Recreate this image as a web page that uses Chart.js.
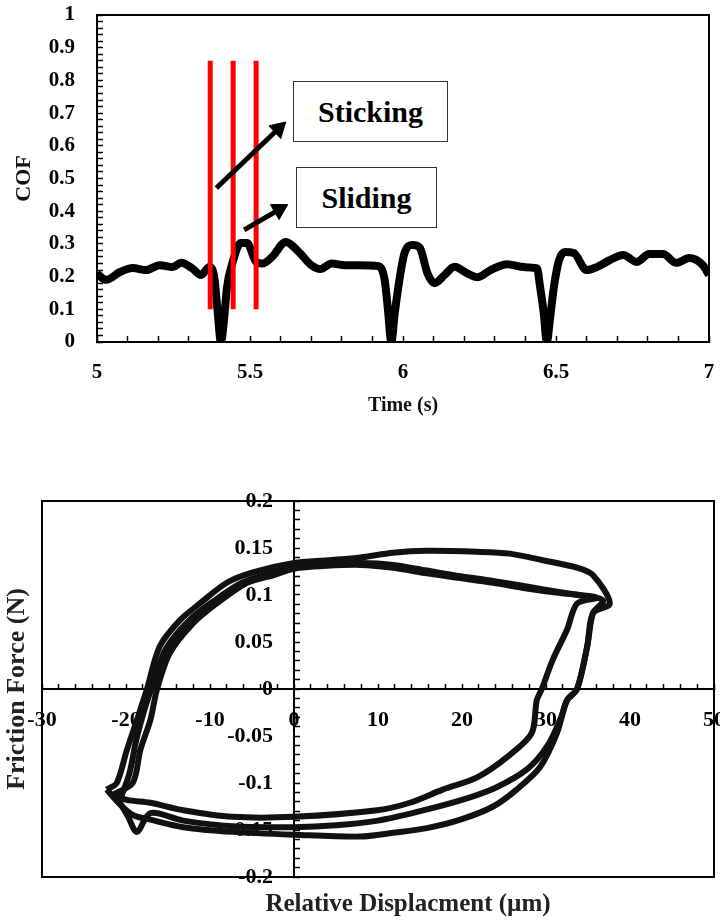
<!DOCTYPE html>
<html>
<head>
<meta charset="utf-8">
<script src="https://cdn.jsdelivr.net/npm/chart.js@4.4.1/dist/chart.umd.min.js"></script>
<style>
    body { margin: 0; width: 720px; height: 924px; overflow: hidden; background: #fff; position: relative; }
    canvas { position: absolute; left: 0; }
    .caixa {
        position: absolute; box-sizing: border-box; border: 1.5px solid #333; background: #fff;
        display: flex; align-items: center; justify-content: center;
        font: bold 30px 'Liberation Serif', 'Times New Roman', serif; color: #000;
    }
</style>
</head>
<body>
<canvas id="graficoCof" width="720" height="430" style="top:0"></canvas>
<div class="caixa" style="left:293px; top:81px; width:155px; height:61px">Sticking</div>
<div class="caixa" style="left:296px; top:167px; width:141px; height:61px">Sliding</div>
<canvas id="graficoLaco" width="816" height="454" style="top:470px"></canvas>

<script>
/* ---- dados do grafico de cima (COF x tempo) ---- */
const tempo = [5.0, 5.03, 5.075, 5.117, 5.16, 5.205, 5.247, 5.275, 5.31, 5.34, 5.367, 5.383, 5.393, 5.405, 5.415, 5.425, 5.442, 5.47, 5.49, 5.52,
    5.54, 5.572, 5.617, 5.66, 5.70, 5.73, 5.767, 5.81, 5.853, 5.92, 5.94, 5.95, 5.962, 5.973, 5.99, 6.005, 6.032, 6.055, 6.08, 6.103,
    6.136, 6.168, 6.21, 6.243, 6.286, 6.34, 6.396, 6.438, 6.448, 6.46, 6.47, 6.48, 6.493, 6.51, 6.53, 6.558, 6.60, 6.633, 6.675, 6.72,
    6.763, 6.805, 6.85, 6.893, 6.935, 6.98, 7.0];
const cof = [0.208, 0.19, 0.214, 0.226, 0.22, 0.235, 0.229, 0.242, 0.226, 0.205, 0.229, 0.2, 0.107, 0, 0.067, 0.168, 0.24, 0.303, 0.303, 0.245,
    0.24, 0.26, 0.306, 0.275, 0.235, 0.223, 0.24, 0.235, 0.235, 0.232, 0.19, 0.107, 0, 0.088, 0.2, 0.272, 0.297, 0.288, 0.21, 0.18,
    0.205, 0.23, 0.21, 0.198, 0.22, 0.238, 0.229, 0.225, 0.168, 0.088, 0, 0.067, 0.168, 0.25, 0.275, 0.272, 0.22, 0.229, 0.25, 0.266,
    0.245, 0.269, 0.269, 0.242, 0.257, 0.235, 0.205];

// linhas vermelhas (tempo) e seus limites de COF
const linhasVermelhas = [5.37, 5.445, 5.52];
const limitesLinhas = [0.1, 0.86];

// setas: [cauda, ponta] em (tempo, COF)
const setaStickingX = [5.39, 5.593];
const setaStickingY = [0.471, 0.652];
const setaSlidingX = [5.481, 5.595];
const setaSlidingY = [0.343, 0.405];

/* ---- dados do grafico de baixo (forca x deslocamento), 3 ciclos ---- */
const deslocCiclo1 = [-22.3, -21.1, -19.9, -18.7, -17.5, -16, -13.6, -11.2, -8, -4.9, 0, 4, 7.9, 11.8, 15.8, 21.8, 25.7, 29.6, 33.7, 35.6,
    37.6, 35.6, 34.9, 33.7, 32.5, 31.3, 29.3, 26.5, 23.7, 19.8, 15.8, 11.8, 7.9, 0, -7.3, -13.2, -17.1, -19.2, -20.8, -22.3];
const forcaCiclo1 = [-0.107, -0.1, -0.065, -0.033, 0, 0.045, 0.073, 0.091, 0.113, 0.124, 0.134, 0.137, 0.14, 0.145, 0.147, 0.146, 0.144, 0.137, 0.129, 0.121,
    0.091, 0.081, 0.045, 0, -0.012, -0.047, -0.083, -0.107, -0.125, -0.139, -0.148, -0.153, -0.157, -0.155, -0.152, -0.147, -0.139, -0.134, -0.122, -0.107];

const deslocCiclo2 = [-21.5, -19.2, -18.3, -17.1, -16.3, -14.8, -12, -9.2, -5.6, -2.5, 0, 3.9, 7.9, 11.8, 15.8, 19.8, 23.7, 27.7, 31.7, 34,
    36, 33.7, 32.5, 30.8, 29.5, 28.9, 28.3, 25.7, 21.8, 17.7, 13.8, 9.9, 0, -7.3, -13.2, -17.1, -19.9, -21.5];
const forcaCiclo2 = [-0.112, -0.1, -0.065, -0.033, 0, 0.038, 0.07, 0.091, 0.113, 0.121, 0.128, 0.131, 0.132, 0.129, 0.123, 0.118, 0.113, 0.107, 0.102, 0.1,
    0.097, 0.091, 0.063, 0.031, 0, -0.012, -0.047, -0.07, -0.094, -0.107, -0.121, -0.129, -0.136, -0.136, -0.129, -0.121, -0.118, -0.112];

const deslocCiclo3 = [-20.8, -19.6, -18.8, -17.8, -16.8, -15.3, -12.6, -9.8, -6.2, -2.8, 0, 3.9, 7.9, 11.8, 15.8, 19.8, 23.7, 27.7, 31.7, 34.5,
    36.8, 35.6, 34.9, 33.7, 32.5, 31.8, 30.2, 27.8, 24, 20, 15, 10, 5, 0, -7.3, -13.2, -17.1, -18.7, -19.8, -20.8];
const forcaCiclo3 = [-0.12, -0.09, -0.055, -0.022, 0.005, 0.042, 0.072, 0.092, 0.113, 0.123, 0.13, 0.133, 0.134, 0.132, 0.126, 0.12, 0.115, 0.109, 0.103, 0.099,
    0.094, 0.081, 0.045, 0, -0.012, -0.03, -0.06, -0.085, -0.105, -0.118, -0.13, -0.14, -0.145, -0.147, -0.146, -0.14, -0.132, -0.152, -0.135, -0.12];

const FONTE = "'Liberation Serif', 'Times New Roman', serif";

// junta duas listas em pontos {x, y}
function pontos(xs, ys) {
    let lista = [];
    for (let i = 0; i < xs.length; i++) {
        lista.push({ x: xs[i], y: ys[i] });
    }
    return lista;
}

// zera as folgas que o eixo pede para os rotulos (senao a area do grafico encolhe)
function semFolga(s) {
    s.paddingTop = 0;
    s.paddingBottom = 0;
    s.paddingLeft = 0;
    s.paddingRight = 0;
}

// desenha a moldura completa em volta da area do grafico
const moldura = {
    id: 'moldura',
    beforeDatasetsDraw(chart) {
        const a = chart.chartArea;
        const ctx = chart.ctx;
        ctx.save();
        ctx.strokeStyle = '#000';
        ctx.lineWidth = 2;
        ctx.strokeRect(a.left, a.top, a.right - a.left, a.bottom - a.top);
        ctx.restore();
    }
};

function plotarCof() {
    let datasets = [];

    // setas
    const setas = [[setaStickingX, setaStickingY, 47], [setaSlidingX, setaSlidingY, 60]];
    for (const s of setas) {
        datasets.push({
            data: pontos(s[0], s[1]),
            borderColor: '#000',
            backgroundColor: '#000',
            borderWidth: 5,
            pointStyle: 'triangle',
            pointRadius: [0, 10],
            pointRotation: [0, s[2]],
            pointBorderWidth: 1
        });
    }

    // linhas vermelhas
    for (const t of linhasVermelhas) {
        datasets.push({
            data: pontos([t, t], limitesLinhas),
            borderColor: '#ff0000',
            borderWidth: 5,
            borderCapStyle: 'butt',
            pointRadius: 0
        });
    }

    // curva do COF
    datasets.push({
        data: pontos(tempo, cof),
        borderColor: '#000',
        borderWidth: 8,
        borderJoinStyle: 'round',
        cubicInterpolationMode: 'monotone',
        pointRadius: 0
    });

    const config = {
        type: 'scatter',
        data: { datasets: datasets },
        options: {
            responsive: false,
            animation: false,
            showLine: true,
            layout: { padding: { top: 15, right: 7, left: 0, bottom: 0 } },
            plugins: { legend: { display: false }, tooltip: { enabled: false } },
            scales: {
                x: {
                    min: 5, max: 7,
                    afterFit: function (s) { s.height = 88; semFolga(s); },
                    ticks: {
                        stepSize: 0.1, autoSkip: false, maxRotation: 0, minRotation: 0, padding: 24,
                        color: '#000', font: { family: FONTE, size: 21, weight: 'bold' },
                        callback: function (v) {
                            const r = Math.round(v * 10);
                            return r % 5 === 0 ? String(r / 10) : '';
                        }
                    },
                    grid: { drawOnChartArea: false, tickLength: -6, tickColor: '#000', tickWidth: 1.5 },
                    border: { color: '#000', width: 2 },
                    title: {
                        display: true, text: 'Time (s)', color: '#111',
                        font: { family: FONTE, size: 20, weight: 'bold' },
                        padding: { top: 0, bottom: 12 }
                    }
                },
                y: {
                    min: 0, max: 1,
                    afterFit: function (s) { s.width = 97; semFolga(s); },
                    ticks: {
                        stepSize: 0.02, autoSkip: false, padding: 28,
                        color: '#000', font: { family: FONTE, size: 21, weight: 'bold' },
                        callback: function (v) {
                            const r = Math.round(v * 100);
                            return r % 10 === 0 ? String(r / 100) : '';
                        }
                    },
                    grid: { drawOnChartArea: false, tickLength: -6, tickColor: '#000', tickWidth: 1.5 },
                    border: { color: '#000', width: 2 },
                    title: {
                        display: true, text: 'COF', color: '#111',
                        font: { family: FONTE, size: 22, weight: 'bold' },
                        padding: { top: 11, bottom: 4 }
                    }
                }
            }
        },
        plugins: [moldura]
    };

    new Chart(document.getElementById('graficoCof').getContext('2d'), config);
}

function plotarLaco() {
    const ciclos = [[deslocCiclo1, forcaCiclo1], [deslocCiclo2, forcaCiclo2], [deslocCiclo3, forcaCiclo3]];
    let datasets = [];
    for (const c of ciclos) {
        datasets.push({
            data: pontos(c[0], c[1]),
            borderColor: '#111',
            borderWidth: 6,
            borderJoinStyle: 'round',
            tension: 0.3,
            pointRadius: 0
        });
    }

    const fonteTicks = { family: FONTE, size: 22, weight: 'bold' };

    const config = {
        type: 'scatter',
        data: { datasets: datasets },
        options: {
            responsive: false,
            animation: false,
            showLine: true,
            layout: { padding: { top: 31, right: 0, left: 0, bottom: 0 } },
            plugins: { legend: { display: false }, tooltip: { enabled: false } },
            scales: {
                x: {
                    min: -30, max: 50,
                    position: { y: 0 },
                    afterFit: semFolga,
                    ticks: {
                        stepSize: 2, autoSkip: false, maxRotation: 0, minRotation: 0, padding: 24,
                        color: '#000', font: fonteTicks,
                        callback: function (v) {
                            const r = Math.round(v);
                            return r % 10 === 0 ? String(r) : '';
                        }
                    },
                    grid: { drawOnChartArea: false, tickLength: -6, tickColor: '#000', tickWidth: 1.5 },
                    border: { color: '#000', width: 2 }
                },
                // eixo y no zero: so as marcas, os rotulos vao no eixo abaixo
                y: {
                    min: -0.2, max: 0.2,
                    position: { x: 0 },
                    afterFit: semFolga,
                    ticks: { stepSize: 0.01, autoSkip: false, display: false },
                    grid: { drawOnChartArea: false, tickLength: -7, tickColor: '#000', tickWidth: 1.5 },
                    border: { color: '#000', width: 2 }
                },
                rotulosY: {
                    type: 'linear', axis: 'y', min: -0.2, max: 0.2,
                    position: { x: -2.5 },
                    afterFit: semFolga,
                    ticks: {
                        stepSize: 0.05, autoSkip: false,
                        color: '#000', font: fonteTicks,
                        callback: function (v) { return String(Math.round(v * 100) / 100); }
                    },
                    grid: { display: false }, border: { display: false }
                },
                // eixos so para os titulos e espacamento
                tituloX: {
                    type: 'linear', axis: 'x', position: 'bottom', fullSize: true,
                    afterFit: function (s) { s.height = 47; semFolga(s); },
                    ticks: { display: false }, grid: { display: false }, border: { display: false },
                    title: {
                        display: true, text: 'Relative Displacment (µm)', color: '#222',
                        font: { family: FONTE, size: 25, weight: 'bold' },
                        padding: { top: 0, bottom: 4 }
                    }
                },
                tituloY: {
                    type: 'linear', axis: 'y', position: 'left',
                    afterFit: function (s) { s.width = 42; semFolga(s); },
                    ticks: { display: false }, grid: { display: false }, border: { display: false },
                    title: {
                        display: true, text: 'Friction Force (N)', color: '#222',
                        font: { family: FONTE, size: 26, weight: 'bold' },
                        padding: { top: 2, bottom: 4 }
                    }
                },
                folga: {
                    type: 'linear', axis: 'y', position: 'right',
                    afterFit: function (s) { s.width = 102; semFolga(s); },
                    ticks: { display: false }, grid: { display: false }, border: { display: false }
                }
            }
        },
        plugins: [moldura]
    };

    new Chart(document.getElementById('graficoLaco').getContext('2d'), config);
}

plotarCof();
plotarLaco();
</script>
</body>
</html>
